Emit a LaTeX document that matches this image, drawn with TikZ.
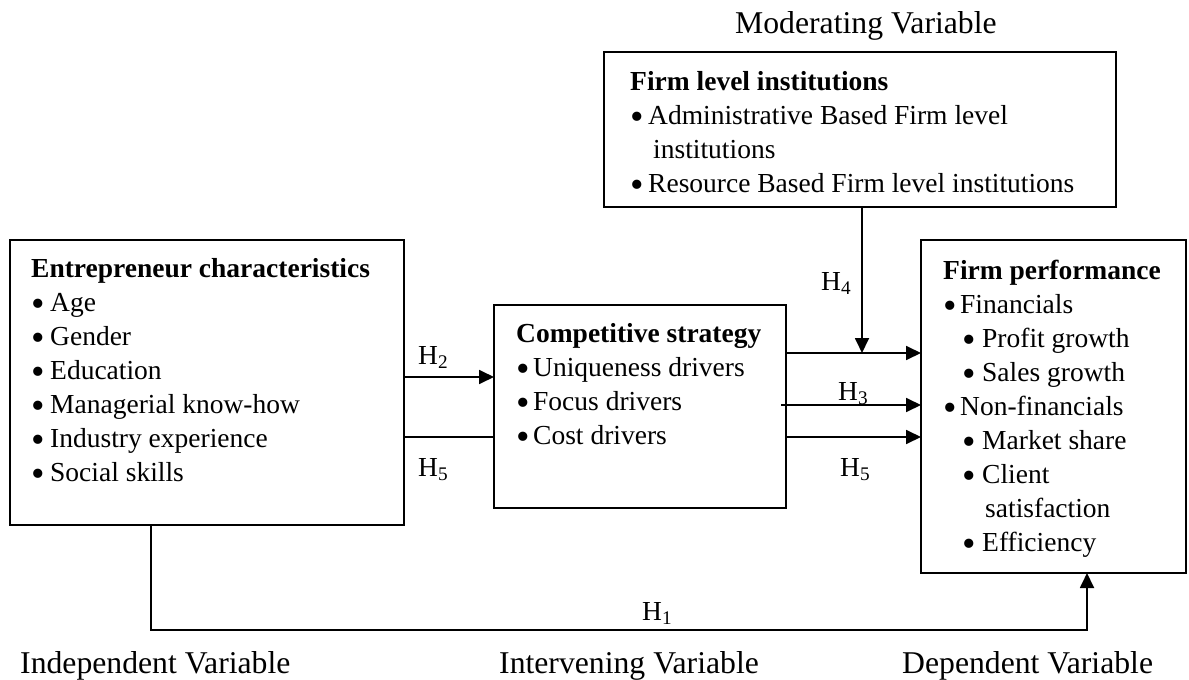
\documentclass[tikz,border=0pt]{standalone}
\usepackage{fontspec}
\usepackage{graphicx}
\setmainfont{Liberation Serif}
\usetikzlibrary{arrows.meta}
\newcommand\LL[1]{\hbox{#1}}
\newcommand\lines[1]{\vtop{\baselineskip=34pt\lineskiplimit=-100pt #1}}
\newcommand\bl[1][17pt]{\makebox[#1][l]{\raisebox{-5pt}[0pt][0pt]{\scalebox{1.4}{\textbullet}}}}
\tikzset{
  box/.style={draw, line width=1.8pt, inner sep=0pt, outer sep=0pt, anchor=north west},
  txt/.style={anchor=base west, inner sep=0pt, font=\fontsize{27.5}{34}\selectfont},
  lab/.style={anchor=base west, inner sep=0pt, font=\fontsize{31.7}{38}\selectfont},
  conn/.style={line width=1.8pt},
  arr/.style={conn, -{Triangle[length=15pt,width=14pt]}},
}
\begin{document}
\begin{tikzpicture}[x=1pt,y=-1pt]
\useasboundingbox (0,0) rectangle (1189,680);
% boxes
\node[box, minimum width=394pt, minimum height=285pt] (ent) at (10,240) {};
\node[box, minimum width=292pt, minimum height=203pt] (comp) at (494,305) {};
\node[box, minimum width=512pt, minimum height=155pt] (inst) at (604,52) {};
\node[box, minimum width=265pt, minimum height=333pt] (perf) at (921,240) {};
% box texts
\node[txt] (entT) at (31,277) {\lines{%
  \LL{\textbf{Entrepreneur characteristics}}%
  \LL{\bl[19pt]Age}%
  \LL{\bl[19pt]Gender}%
  \LL{\bl[19pt]Education}%
  \LL{\bl[19pt]Managerial know-how}%
  \LL{\bl[19pt]Industry experience}%
  \LL{\bl[19pt]Social skills}}};
\node[txt] (compT) at (516,342) {\lines{%
  \LL{\textbf{Competitive strategy}}%
  \LL{\bl Uniqueness drivers}%
  \LL{\bl Focus drivers}%
  \LL{\bl Cost drivers}}};
\node[txt] (instT) at (630,90) {\lines{%
  \LL{\textbf{Firm level institutions}}%
  \LL{\bl[18pt]Administrative Based Firm level}%
  \LL{\hspace*{23pt}institutions}%
  \LL{\bl[18pt]Resource Based Firm level institutions}}};
\node[txt] (perfT) at (943,279) {\lines{%
  \LL{\textbf{Firm performance}}%
  \LL{\bl Financials}%
  \LL{\hspace*{19pt}\bl[20pt]Profit growth}%
  \LL{\hspace*{19pt}\bl[20pt]Sales growth}%
  \LL{\bl Non-financials}%
  \LL{\hspace*{19pt}\bl[20pt]Market share}%
  \LL{\hspace*{19pt}\bl[20pt]Client}%
  \LL{\hspace*{42pt}satisfaction}%
  \LL{\hspace*{19pt}\bl[20pt]Efficiency}}};
% connectors
\coordinate (j) at (862,353);
\coordinate (h1) at (151,630);
\draw[arr] (ent.east |- 0,377) -- (comp.west |- 0,377);
\draw[conn] (ent.east |- 0,437) -- (comp.west |- 0,437);
\draw[arr] (comp.east |- j) -- (perf.west |- j);
\draw[arr] (inst.south -| j) -- (j);
\draw[arr] ([xshift=-5pt]comp.east |- 0,405) -- (perf.west |- 0,405);
\draw[arr] (comp.east |- 0,437) -- (perf.west |- 0,437);
\draw[arr] (ent.south -| h1) -- (h1) -| (perf.south -| 1087,0);
% hypothesis labels
\node[txt] (h2l) at (418,364) {H\textsubscript{2}};
\node[txt] (h5l) at (418,476) {H\textsubscript{5}};
\node[txt] (h4l) at (821,290) {H\textsubscript{4}};
\node[txt] (h3l) at (838,400) {H\textsubscript{3}};
\node[txt] (h5r) at (840,476) {H\textsubscript{5}};
\node[txt] (h1l) at (642,620) {H\textsubscript{1}};
% variable labels
\node[lab] (mod) at (735,33) {Moderating Variable};
\node[lab] (ind) at (20,673) {Independent Variable};
\node[lab] (intv) at (499,673) {Intervening Variable};
\node[lab] (dep) at (902,673) {Dependent Variable};
\end{tikzpicture}
\end{document}
